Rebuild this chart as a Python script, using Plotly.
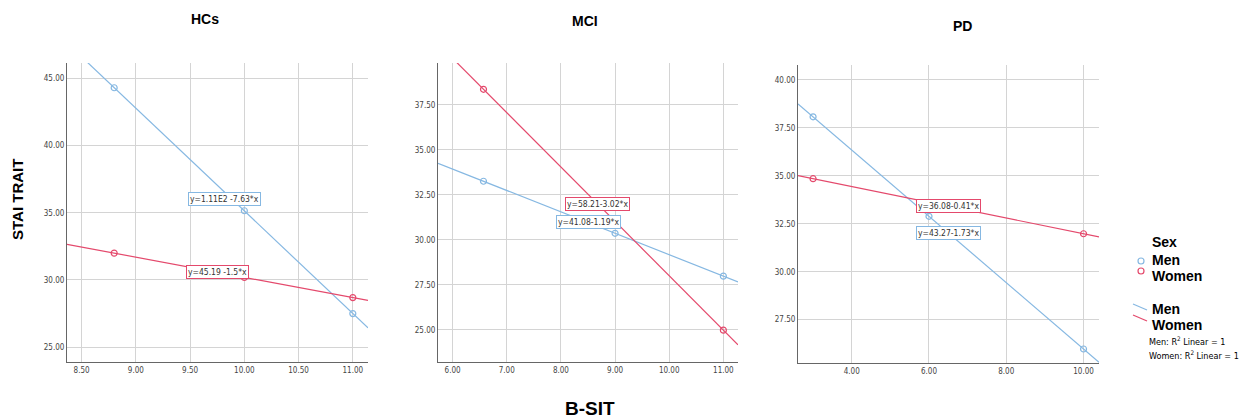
import numpy as np
import plotly.graph_objects as go

W, H = 1240, 419

# ---- data ----
groups = ["HCs", "MCI", "PD"]
hc_men_x = [8.8, 10.0, 11.0]
hc_men_y = [44.3, 35.15, 27.5]
hc_women_x = [8.8, 10.0, 11.0]
hc_women_y = [32.0, 30.19, 28.69]
mci_men_x = [6.57, 9.0, 11.0]
mci_men_y = [33.26, 30.37, 27.99]
mci_women_x = [6.57, 11.0]
mci_women_y = [38.37, 24.99]
pd_men_x = [3.0, 6.0, 10.0]
pd_men_y = [38.08, 32.89, 25.97]
pd_women_x = [3.0, 10.0]
pd_women_y = [34.85, 31.98]

eq_men = ["y=1.11E2 -7.63*x", "y=41.08-1.19*x", "y=43.27-1.73*x"]
eq_women = ["y=45.19 -1.5*x", "y=58.21-3.02*x", "y=36.08-0.41*x"]

x_ranges = [[8.365, 11.14], [5.73, 11.27], [2.61, 10.40]]
y_ranges = [[23.9, 46.14], [23.22, 39.83], [25.24, 40.78]]
x_ticks = [[8.5, 9.0, 9.5, 10.0, 10.5, 11.0], [6, 7, 8, 9, 10, 11], [4, 6, 8, 10]]
y_ticks = [[25, 30, 35, 40, 45], [25, 27.5, 30, 32.5, 35, 37.5], [27.5, 30, 32.5, 35, 37.5, 40]]

# label positions (data coords)
men_lab = [(9.82, 36.03), (8.50, 31.0), (6.51, 32.03)]
women_lab = [(9.75, 30.6), (8.68, 32.0), (6.51, 33.44)]

BLUE = "#86b8e2"
RED = "#e4496c"

panels_px = [(67, 368, 63, 362), (438, 738, 63, 362), (798, 1099, 65, 363)]
title_px = [(205, 19), (585, 21), (962, 26)]

men = [(hc_men_x, hc_men_y), (mci_men_x, mci_men_y), (pd_men_x, pd_men_y)]
women = [(hc_women_x, hc_women_y), (mci_women_x, mci_women_y), (pd_women_x, pd_women_y)]

fig = go.Figure()
annotations = []
shapes = []

tick_font = dict(family="Liberation Sans Narrow, DejaVu Sans Condensed, Liberation Sans", size=8, color="#444")
eq_font = dict(family="Liberation Sans Narrow, DejaVu Sans Condensed, Liberation Sans", size=8.5, color="#333")

for i in range(3):
    ax = "" if i == 0 else str(i + 1)
    xa, ya = "x" + ax, "y" + ax
    x0, x1, yt, yb = panels_px[i]
    fig.update_layout(**{
        "xaxis" + ax: dict(domain=[x0 / W, x1 / W], range=x_ranges[i], anchor=ya,
                           tickvals=x_ticks[i], tickformat=".2f", showgrid=True,
                           gridcolor="#d4d4d4", gridwidth=1, showline=True, linecolor="#666",
                           linewidth=1, zeroline=False, ticks="", tickfont=tick_font),
        "yaxis" + ax: dict(domain=[1 - yb / H, 1 - yt / H], range=y_ranges[i], anchor=xa,
                           tickvals=y_ticks[i], tickformat=".2f", showgrid=True,
                           gridcolor="#d4d4d4", gridwidth=1, showline=True, linecolor="#666",
                           linewidth=1, zeroline=False, ticks="", tickfont=tick_font),
    })
    for (xs, ys), col in ((men[i], BLUE), (women[i], RED)):
        b, a = np.polyfit(xs, ys, 1)
        lx = np.array(x_ranges[i])
        fig.add_trace(go.Scatter(x=lx, y=a + b * lx, mode="lines", xaxis=xa, yaxis=ya,
                                 line=dict(color=col, width=1.2), showlegend=False, hoverinfo="skip"))
        fig.add_trace(go.Scatter(x=xs, y=ys, mode="markers", xaxis=xa, yaxis=ya,
                                 marker=dict(symbol="circle-open", size=6, color=col, line=dict(width=1.2)),
                                 showlegend=False))
    for (px, py), txt, col in ((men_lab[i], eq_men[i], BLUE), (women_lab[i], eq_women[i], RED)):
        annotations.append(dict(x=px, y=py, xref=xa, yref=ya, text=txt, showarrow=False,
                                font=eq_font, bgcolor="white", bordercolor=col, borderwidth=1, borderpad=1))
    tx, ty = title_px[i]
    annotations.append(dict(x=tx / W, y=1 - ty / H, xref="paper", yref="paper", text="<b>%s</b>" % groups[i],
                            showarrow=False, font=dict(family="Liberation Sans, Arial", size=14, color="black"),
                            xanchor="center", yanchor="middle"))

# axis titles
annotations.append(dict(x=18 / W, y=1 - 200 / H, xref="paper", yref="paper", text="<b>STAI TRAIT</b>",
                        textangle=-90, showarrow=False, xanchor="center", yanchor="middle",
                        font=dict(family="Liberation Sans, Arial", size=15, color="black")))
annotations.append(dict(x=590 / W, y=1 - 408 / H, xref="paper", yref="paper", text="<b>B-SIT</b>",
                        showarrow=False, xanchor="center", yanchor="middle",
                        font=dict(family="Liberation Sans, Arial", size=19, color="black")))

# legend (manual)
leg_font = dict(family="Liberation Sans, Arial", size=14, color="black")
def ptxt(x, y, t, font):
    annotations.append(dict(x=x / W, y=1 - y / H, xref="paper", yref="paper", text=t, showarrow=False,
                            xanchor="left", yanchor="middle", font=font))
ptxt(1150, 242, "<b>Sex</b>", leg_font)
ptxt(1150, 260, "<b>Men</b>", leg_font)
ptxt(1150, 276, "<b>Women</b>", leg_font)
ptxt(1150, 309, "<b>Men</b>", leg_font)
ptxt(1150, 325, "<b>Women</b>", leg_font)
small = dict(family="Liberation Sans Narrow, DejaVu Sans Condensed, Liberation Sans", size=9, color="black")
ptxt(1147, 341, "Men: R<sup>2</sup> Linear = 1", small)
ptxt(1147, 355, "Women: R<sup>2</sup> Linear = 1", small)

for cy, col in ((261, BLUE), (271, RED)):
    shapes.append(dict(type="circle", xref="paper", yref="paper",
                       x0=1138 / W, x1=1144 / W, y0=1 - (cy + 3) / H, y1=1 - (cy - 3) / H,
                       line=dict(color=col, width=1.2)))
for (ya_, yb_), col in (((304, 310), BLUE), ((315, 321), RED)):
    shapes.append(dict(type="line", xref="paper", yref="paper",
                       x0=1133 / W, x1=1147 / W, y0=1 - ya_ / H, y1=1 - yb_ / H,
                       line=dict(color=col, width=1.2)))

fig.update_layout(width=W, height=H, margin=dict(l=0, r=0, t=0, b=0),
                  paper_bgcolor="white", plot_bgcolor="white",
                  annotations=annotations, shapes=shapes, showlegend=False)

fig.write_html("out.html", config={"displayModeBar": False},
               post_script="document.body.style.margin='0';document.body.style.padding='0';")
